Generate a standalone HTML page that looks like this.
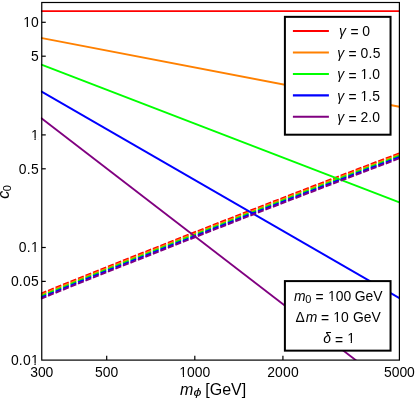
<!DOCTYPE html>
<html><head><meta charset="utf-8"><title>plot</title>
<style>
html,body{margin:0;padding:0;background:#fff;}
body{width:415px;height:401px;overflow:hidden;font-family:"Liberation Sans",sans-serif;}
svg{display:block;will-change:transform;}
text{font-family:"Liberation Sans",sans-serif;fill:#000;}
.i{font-style:italic;}
</style></head><body>
<svg width="415" height="401" viewBox="0 0 415 401">
<rect x="0" y="0" width="415" height="401" fill="#fff"/>
<defs><clipPath id="cp"><rect x="40.86" y="2.5" width="358.53999999999996" height="357.6"/></clipPath></defs>
<g clip-path="url(#cp)" fill="none" stroke-width="1.85">
<line x1="40.76" y1="11.13" x2="399.40" y2="11.13" stroke="#ff0000"/>
<path d="M40.58 293.77Q220.49 220.95 400.40 152.92" stroke="#ff0000" stroke-dasharray="6.15 1.91"/>
<line x1="40.76" y1="37.80" x2="399.40" y2="106.78" stroke="#ff8000"/>
<path d="M40.58 295.04Q220.49 222.22 400.40 154.19" stroke="#ff8000" stroke-dasharray="6.15 1.91"/>
<line x1="40.76" y1="64.47" x2="399.40" y2="202.43" stroke="#00ff00"/>
<path d="M40.58 296.31Q220.49 223.49 400.40 155.46" stroke="#00ff00" stroke-dasharray="6.15 1.91"/>
<line x1="40.76" y1="91.14" x2="399.40" y2="298.09" stroke="#0000ff"/>
<path d="M40.58 297.58Q220.49 224.76 400.40 156.73" stroke="#0000ff" stroke-dasharray="6.15 1.91"/>
<line x1="40.76" y1="117.81" x2="399.40" y2="393.74" stroke="#800080"/>
<path d="M40.58 298.85Q220.49 226.03 400.40 158.00" stroke="#800080" stroke-dasharray="6.15 1.91"/>
</g>
<rect x="41.76" y="2.5" width="357.64" height="357.60" fill="none" stroke="#000" stroke-width="1.2"/>
<g stroke="#000" stroke-width="1.2">
<line x1="106.70" y1="360.1" x2="106.70" y2="355.70000000000005"/>
<line x1="194.81" y1="360.1" x2="194.81" y2="355.70000000000005"/>
<line x1="282.92" y1="360.1" x2="282.92" y2="355.70000000000005"/>
<line x1="41.76" y1="22.30" x2="45.76" y2="22.30"/>
<line x1="41.76" y1="56.20" x2="45.76" y2="56.20"/>
<line x1="41.76" y1="134.90" x2="45.76" y2="134.90"/>
<line x1="41.76" y1="168.80" x2="45.76" y2="168.80"/>
<line x1="41.76" y1="247.50" x2="45.76" y2="247.50"/>
<line x1="41.76" y1="281.40" x2="45.76" y2="281.40"/>
</g>
<g font-size="13.9">
<text x="41.71" y="376.9" text-anchor="middle" letter-spacing="-0.1">300</text>
<text x="106.70" y="376.9" text-anchor="middle" letter-spacing="0">500</text>
<text x="194.81" y="376.9" text-anchor="middle" letter-spacing="0">1000</text>
<text x="283.02" y="376.9" text-anchor="middle" letter-spacing="0.2">2000</text>
<text x="399.40" y="376.9" text-anchor="middle" letter-spacing="0">5000</text>
<text x="38.70" y="27.15" text-anchor="end" letter-spacing="0">10</text>
<text x="38.70" y="61.05" text-anchor="end" letter-spacing="0">5</text>
<text x="38.70" y="139.75" text-anchor="end" letter-spacing="0">1</text>
<text x="39.00" y="173.65" text-anchor="end" letter-spacing="0.3">0.5</text>
<text x="39.00" y="252.35" text-anchor="end" letter-spacing="0.3">0.1</text>
<text x="38.95" y="286.25" text-anchor="end" letter-spacing="0.25">0.05</text>
<text x="38.95" y="364.95" text-anchor="end" letter-spacing="0.25">0.01</text>
</g>
<text y="394.8" font-size="16"><tspan class="i" x="180">m</tspan><tspan x="205.3">[GeV]</tspan></text>
<text class="i" font-size="10.6" transform="translate(193.4,396.4) scale(1.35,1.03)">ϕ</text>
<text transform="translate(9.0,198.7) rotate(-90)" font-size="16"><tspan class="i">c</tspan><tspan font-size="11" dy="2.2" dx="-0.5">0</tspan></text>
<rect x="284.9" y="16.85" width="105.65" height="117.85" fill="#fff" stroke="#000" stroke-width="2"/>
<line x1="292.9" y1="30.95" x2="328.9" y2="30.95" stroke="#ff0000" stroke-width="2.05"/>
<text font-size="13.9" y="36.05"><tspan class="i" x="339.0">γ</tspan><tspan x="350.4" dy="1.4">=</tspan><tspan x="362.2" dy="-1.4" letter-spacing="0.1">0</tspan></text>
<line x1="292.9" y1="52.45" x2="328.9" y2="52.45" stroke="#ff8000" stroke-width="2.05"/>
<text font-size="13.9" y="57.65"><tspan class="i" x="337.2">γ</tspan><tspan x="348.6" dy="1.4">=</tspan><tspan x="360.4" dy="-1.4" letter-spacing="0.4">0.5</tspan></text>
<line x1="292.9" y1="73.95" x2="328.9" y2="73.95" stroke="#00ff00" stroke-width="2.05"/>
<text font-size="13.9" y="79.25"><tspan class="i" x="337.2">γ</tspan><tspan x="348.6" dy="1.4">=</tspan><tspan x="360.4" dy="-1.4" letter-spacing="0.1">1.0</tspan></text>
<line x1="292.9" y1="95.35" x2="328.9" y2="95.35" stroke="#0000ff" stroke-width="2.05"/>
<text font-size="13.9" y="100.85"><tspan class="i" x="337.2">γ</tspan><tspan x="348.6" dy="1.4">=</tspan><tspan x="360.4" dy="-1.4" letter-spacing="0.1">1.5</tspan></text>
<line x1="292.9" y1="116.75" x2="328.9" y2="116.75" stroke="#800080" stroke-width="2.05"/>
<text font-size="13.9" y="122.45"><tspan class="i" x="337.2">γ</tspan><tspan x="348.6" dy="1.4">=</tspan><tspan x="360.4" dy="-1.4" letter-spacing="0.1">2.0</tspan></text>
<rect x="284.9" y="281.1" width="105.65" height="69.55" fill="#fff" stroke="#000" stroke-width="2"/>
<text font-size="13.9" y="300.7"><tspan class="i" x="294">m</tspan><tspan font-size="11" x="305.3" dy="2.6">0</tspan><tspan x="315.6" dy="-1.2">=</tspan><tspan x="328" dy="-1.4">100</tspan><tspan x="354.7">GeV</tspan></text>
<text font-size="13.9" y="321.9"><tspan x="295.4">Δ</tspan><tspan class="i" x="305.8">m</tspan><tspan x="321" dy="1.4">=</tspan><tspan x="333.3" dy="-1.4">10</tspan><tspan x="353">GeV</tspan></text>
<text font-size="13.9" y="342.9"><tspan class="i" x="323.2">δ</tspan><tspan x="335.0" dy="1.6">=</tspan><tspan x="347.2" dy="-1.6">1</tspan></text>
<g><rect x="180" y="375" width="2.85" height="2" fill="#fff"/><rect x="184.08" y="375" width="2.92" height="2" fill="#fff"/><rect x="24" y="26" width="2.74" height="2" fill="#fff"/><rect x="27.97" y="26" width="3.03" height="2" fill="#fff"/><rect x="32" y="138" width="2.46" height="2" fill="#fff"/><rect x="35.69" y="138" width="2.31" height="2" fill="#fff"/><rect x="32" y="251" width="2.45" height="2" fill="#fff"/><rect x="35.68" y="251" width="2.32" height="2" fill="#fff"/><rect x="32" y="363" width="2.45" height="3" fill="#fff"/><rect x="35.68" y="363" width="2.32" height="3" fill="#fff"/><rect x="361" y="78" width="2.90" height="2" fill="#fff"/><rect x="365.13" y="78" width="2.87" height="2" fill="#fff"/><rect x="361" y="99" width="2.90" height="2" fill="#fff"/><rect x="365.13" y="99" width="2.87" height="2" fill="#fff"/><rect x="329" y="299" width="2.50" height="2" fill="#fff"/><rect x="332.73" y="299" width="3.27" height="2" fill="#fff"/><rect x="334" y="320" width="2.80" height="2" fill="#fff"/><rect x="338.03" y="320" width="2.97" height="2" fill="#fff"/><rect x="348" y="341" width="2.70" height="2" fill="#fff"/><rect x="351.93" y="341" width="3.07" height="2" fill="#fff"/></g>
</svg></body></html>
